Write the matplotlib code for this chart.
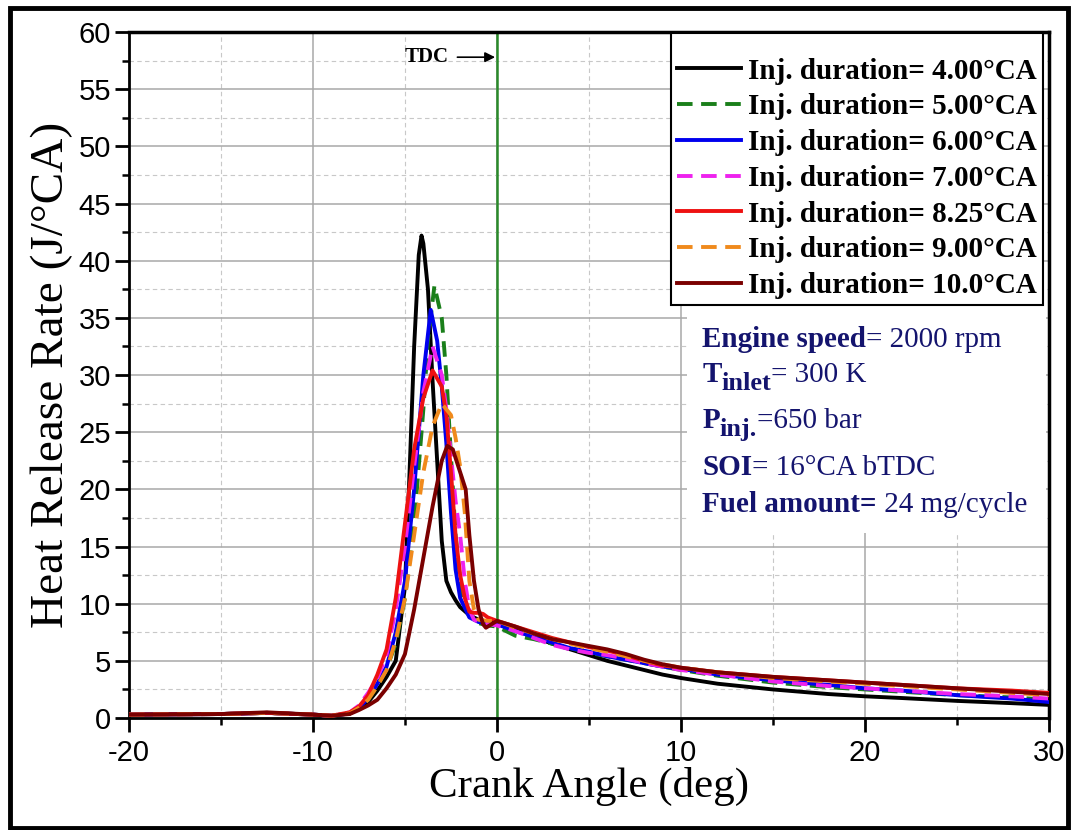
import matplotlib
matplotlib.use("Agg")
import matplotlib.pyplot as plt
from matplotlib.patches import Rectangle
from matplotlib.ticker import MultipleLocator
from matplotlib.transforms import offset_copy

plt.rcParams['axes.unicode_minus'] = False

# crank angle (deg) / heat release rate (J/degCA)
x_40 = [-20, -15, -12.5, -10, -9, -8, -7.5, -7, -6.5, -6, -5.5, -5, -4.75, -4.5, -4.25, -4.1, -4, -3.75,
        -3.5, -3.25, -3, -2.75, -2.5, -2.25, -2, -1.5, -1, -0.5, 0, 1, 2, 3, 4, 5, 6, 7, 8, 9, 10,
        12, 15, 18, 20, 22, 25, 28, 30]
y_40 = [0.3, 0.35, 0.45, 0.3, 0.2, 0.4, 0.8, 1.4, 2.4, 3.6, 5.0, 11.5, 21.5, 32.5, 40.5, 42.2, 41.5, 37.5,
        29.5, 22.5, 15.5, 12.0, 11.0, 10.3, 9.7, 9.0, 8.6, 8.4, 8.3, 7.7, 7.1, 6.5, 6.0, 5.5, 5.0, 4.6, 4.2, 3.8, 3.5,
        3.0, 2.5, 2.1, 1.9, 1.75, 1.5, 1.3, 1.15]

x_50 = [-20, -15, -12.5, -10, -9, -8, -7.5, -7, -6.5, -6, -5.5, -5, -4.5, -4, -3.75, -3.4, -3, -2.75,
        -2.5, -2.25, -2, -1.75, -1.5, -1, -0.5, 0, 1, 2, 3, 4, 5, 6, 7, 8, 9, 10,
        12, 15, 18, 20, 22, 25, 28, 30]
y_50 = [0.3, 0.35, 0.45, 0.3, 0.2, 0.4, 0.9, 1.6, 2.8, 4.3, 6.5, 10.5, 17.0, 27.0, 33.0, 37.8, 35.0, 30.0,
        23.0, 16.0, 12.0, 9.8, 8.9, 8.3, 8.1, 8.0, 7.2, 6.9, 6.5, 6.1, 5.7, 5.4, 5.1, 4.8, 4.5, 4.2,
        3.7, 3.1, 2.7, 2.5, 2.3, 2.0, 1.8, 1.6]

x_60 = [-20, -15, -12.5, -10, -9, -8, -7.5, -7, -6.5, -6, -5.5, -5, -4.5, -4, -3.6, -3.25, -3, -2.75,
        -2.5, -2.25, -2, -1.5, -1, -0.5, 0, 1, 2, 3, 4, 5, 6, 7, 8, 9, 10,
        12, 15, 18, 20, 22, 25, 28, 30]
y_60 = [0.3, 0.35, 0.45, 0.3, 0.2, 0.4, 0.9, 1.7, 3.0, 4.5, 7.5, 12.0, 20.0, 30.0, 35.7, 33.0, 29.0, 24.0,
        18.0, 13.0, 10.5, 8.8, 8.4, 8.3, 8.2, 7.6, 7.1, 6.6, 6.1, 5.8, 5.4, 5.1, 4.8, 4.5, 4.3,
        3.8, 3.3, 2.9, 2.6, 2.4, 2.0, 1.7, 1.4]

x_70 = [-20, -15, -12.5, -10, -9, -8, -7.5, -7, -6.5, -6, -5.5, -5, -4.5, -4, -3.5, -3, -2.75, -2.5,
        -2.25, -2, -1.75, -1.5, -1.25, -1, -0.5, 0, 1, 2, 3, 4, 5, 6, 7, 8, 9, 10,
        12, 15, 18, 20, 22, 25, 28, 30]
y_70 = [0.3, 0.35, 0.45, 0.3, 0.2, 0.5, 1.1, 2.2, 3.5, 5.5, 9.5, 15.0, 22.0, 28.5, 32.5, 30.0, 27.0, 23.0,
        19.0, 16.0, 12.0, 9.5, 8.6, 8.4, 8.2, 8.1, 7.6, 7.0, 6.4, 6.0, 5.7, 5.5, 5.2, 4.8, 4.5, 4.2,
        3.8, 3.2, 2.8, 2.6, 2.4, 2.1, 1.9, 1.7]

x_825 = [-20, -15, -12.5, -10, -9, -8, -7.5, -7, -6.5, -6, -5.5, -5, -4.5, -4, -3.5, -3, -2.75, -2.5,
         -2.25, -2, -1.75, -1.5, -1.25, -1, -0.75, -0.5, 0, 1, 2, 3, 4, 5, 6, 7, 8, 9, 10,
         12, 15, 18, 20, 22, 25, 28, 30]
y_825 = [0.3, 0.35, 0.45, 0.3, 0.2, 0.5, 1.0, 2.0, 3.8, 6.0, 10.5, 17.0, 23.5, 28.0, 30.4, 29.0, 26.5, 21.5,
         16.0, 12.5, 10.5, 9.3, 9.2, 9.2, 9.1, 8.8, 8.5, 8.0, 7.5, 7.0, 6.6, 6.2, 5.9, 5.5, 5.0, 4.6, 4.4,
         4.0, 3.6, 3.3, 3.1, 2.9, 2.6, 2.4, 2.2]

x_90 = [-20, -15, -12.5, -10, -9, -8, -7.5, -7, -6.5, -6, -5.5, -5, -4.5, -4, -3.5, -3, -2.5, -2.25,
        -2, -1.75, -1.5, -1.25, -1, -0.5, 0, 1, 2, 3, 4, 5, 6, 7, 8, 9, 10,
        12, 15, 18, 20, 22, 25, 28, 30]
y_90 = [0.3, 0.35, 0.45, 0.3, 0.2, 0.4, 0.9, 1.6, 2.8, 4.2, 6.8, 10.5, 16.0, 21.5, 25.5, 27.5, 26.5, 24.5,
        22.0, 18.0, 12.0, 9.5, 8.6, 8.5, 8.5, 7.9, 7.4, 6.9, 6.5, 6.1, 5.8, 5.4, 5.0, 4.7, 4.4,
        4.0, 3.5, 3.2, 3.0, 2.8, 2.5, 2.2, 2.0]

x_100 = [-20, -15, -12.5, -10, -9, -8, -7.5, -7, -6.5, -6, -5.5, -5, -4.5, -4, -3.5, -3, -2.7, -2.4,
         -2, -1.7, -1.5, -1.25, -1, -0.75, -0.6, -0.3, 0, 1, 2, 3, 4, 5, 6, 7, 8, 9, 10,
         12, 15, 18, 20, 22, 25, 28, 30]
y_100 = [0.3, 0.35, 0.5, 0.3, 0.2, 0.35, 0.7, 1.1, 1.6, 2.6, 3.8, 5.6, 9.5, 14.0, 18.5, 22.5, 23.8, 23.5,
         21.5, 20.0, 16.0, 12.0, 9.5, 8.2, 7.9, 8.2, 8.5, 8.0, 7.4, 6.9, 6.6, 6.3, 6.0, 5.6, 5.1, 4.7, 4.4,
         4.0, 3.6, 3.3, 3.1, 2.9, 2.6, 2.3, 2.1]

labels = ["Inj. duration= 4.00°CA", "Inj. duration= 5.00°CA", "Inj. duration= 6.00°CA",
          "Inj. duration= 7.00°CA", "Inj. duration= 8.25°CA", "Inj. duration= 9.00°CA",
          "Inj. duration= 10.0°CA"]
colors = ["#000000", "#1a7f1a", "#0000ee", "#ee22ee", "#ee1111", "#f08a1c", "#7a0000"]
styles = ["-", "--", "-", "--", "-", "--", "-"]

xs = [x_40, x_50, x_60, x_70, x_825, x_90, x_100]
ys = [y_40, y_50, y_60, y_70, y_825, y_90, y_100]

fig = plt.figure(figsize=(10.72, 8.30), dpi=100)
ax = fig.add_axes([0.1203, 0.1349, 0.8582, 0.8265])

for x, y, c, ls, lab in zip(xs, ys, colors, styles, labels):
    if ls == "--":
        ax.plot(x, y, color=c, ls=ls, lw=2.8, label=lab, dashes=(4, 2.2), zorder=3)
    else:
        ax.plot(x, y, color=c, ls=ls, lw=2.8, label=lab, zorder=3)

ax.axvline(0, color="#2a8a2a", lw=1.8, zorder=2.5)

ax.set_xlim(-20, 30)
ax.set_ylim(0, 60)
ax.xaxis.set_major_locator(MultipleLocator(10))
ax.xaxis.set_minor_locator(MultipleLocator(5))
ax.yaxis.set_major_locator(MultipleLocator(5))
ax.yaxis.set_minor_locator(MultipleLocator(2.5))

ax.set_axisbelow(True)
ax.grid(which="major", color="#a8a8a8", lw=1.1)
ax.grid(which="minor", color="#c8c8c8", lw=0.8, ls=(0, (4, 3)))

ax.tick_params(which="major", direction="out", length=10, width=2, labelsize=21,
               top=False, right=False)
ax.tick_params(which="minor", direction="out", length=5, width=1.8, top=False, right=False)
ax.tick_params(axis="x", pad=5)
ax.tick_params(axis="y", pad=3)
for lab in ax.get_xticklabels() + ax.get_yticklabels():
    lab.set_fontfamily("Liberation Sans")

for s in ["left", "bottom"]:
    ax.spines[s].set_linewidth(2)
for s in ["top", "right"]:
    ax.spines[s].set_linewidth(2.5)

ax.set_xlabel("Crank Angle (deg)", fontfamily="Liberation Serif", fontsize=31, labelpad=0)
ax.set_ylabel("Heat Release Rate (J/°CA)", fontfamily="Liberation Serif", fontsize=34, labelpad=4)

leg = ax.legend(loc="upper right", bbox_to_anchor=(0.9935, 0.9985), borderaxespad=0,
                prop={"family": "Liberation Serif", "weight": "bold", "size": 21},
                title=" ", title_fontsize=7.5,
                handlelength=2.2, handletextpad=0.25, labelspacing=0.3,
                borderpad=0.2, fancybox=False, framealpha=1)
leg.get_frame().set_edgecolor("black")
leg.get_frame().set_linewidth(1.5)

ax.add_patch(Rectangle((0.607, 0.27), 0.39, 0.342, transform=ax.transAxes,
                       facecolor="white", edgecolor="none", zorder=1))

# engine data box: pieces of (text, bold, size, baseline shift in pt)
navy = "#14146e"
info = [
    [("Engine speed", True, 21, 0), ("= 2000 rpm", False, 21, 0)],
    [("T", True, 21, 0), ("inlet", True, 19, -6), ("= 300 K", False, 21, 0)],
    [("P", True, 21, 0), ("inj.", True, 19, -6), ("=650 bar", False, 21, 0)],
    [("SOI", True, 21, 0), ("= 16°CA bTDC", False, 21, 0)],
    [("Fuel amount=", True, 21, 0), (" 24 mg/cycle", False, 21, 0)],
]
info_y = [0.5408, 0.4898, 0.4227, 0.3542, 0.3003]

renderer = fig.canvas.get_renderer()
for pieces, yy in zip(info, info_y):
    xx = 0.623
    for s, bold, size, dy in pieces:
        tr = offset_copy(ax.transAxes, fig=fig, x=0, y=dy, units="points")
        t = ax.text(xx, yy, s, transform=tr, color=navy, fontsize=size,
                    fontfamily="Liberation Serif", fontweight="bold" if bold else "normal",
                    va="baseline", ha="left", zorder=4)
        bb = t.get_window_extent(renderer)
        xx = ax.transAxes.inverted().transform((bb.x1, bb.y0))[0]

ax.annotate("TDC", xy=(-0.1, 57.8), xytext=(-3.8, 57.8),
            fontfamily="Liberation Serif", fontweight="bold", fontsize=15,
            ha="center", va="center",
            arrowprops=dict(arrowstyle="-|>", color="black", lw=1.2, shrinkA=4, shrinkB=0))

fig.patches.append(Rectangle((0.0093, 0.003), 0.9867, 0.987, transform=fig.transFigure,
                             fill=False, edgecolor="black", lw=3.5))

fig.savefig("out.png", dpi=100)
